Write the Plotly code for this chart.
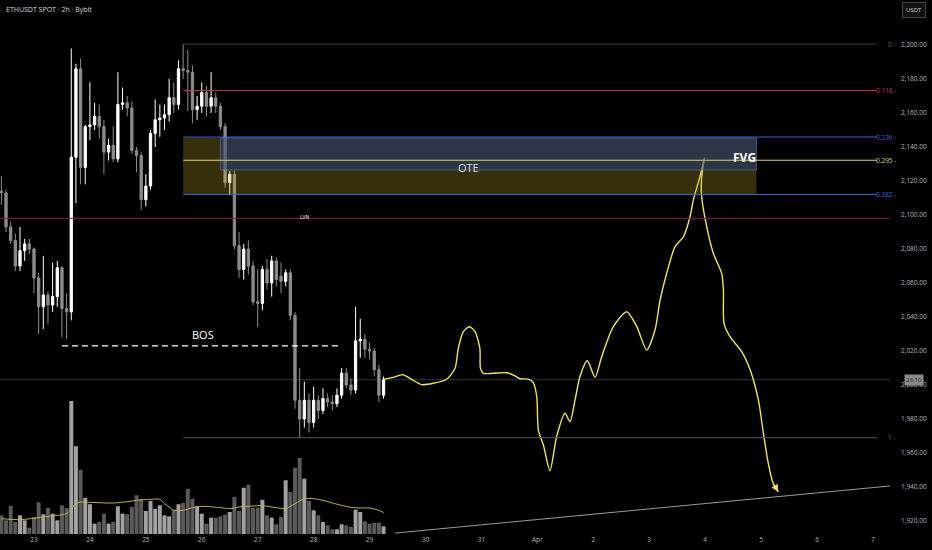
import pandas as pd
import plotly.graph_objects as go

# ---------------- data ----------------
candle_start = "2025-03-22 10:00"
n_candles = 83
opens = [2114, 2113, 2093, 2085, 2070, 2079, 2083, 2080, 2063, 2046, 2053, 2047, 2052, 2069, 2045, 2043, 2134, 2186, 2128, 2152, 2153,
         2158, 2152, 2137, 2141, 2133, 2165, 2166, 2163, 2138, 2135, 2109, 2117, 2148, 2156, 2157, 2159, 2169, 2165, 2186, 2185, 2184,
         2162, 2164, 2172, 2164, 2169, 2164, 2152, 2119, 2124, 2082, 2068, 2080, 2070, 2049, 2048, 2068, 2060, 2073, 2064, 2061, 2066,
         2041, 1991, 1980, 1991, 1978, 1991, 1985, 1992, 1990, 1989, 1994, 2007, 2000, 1997, 2026, 2027, 2021, 2020, 2009, 1994]
highs = [2123, 2115, 2096, 2089, 2093, 2086, 2086, 2081, 2066, 2076, 2055, 2072, 2073, 2070, 2054, 2198, 2189, 2192, 2153, 2178, 2166,
         2165, 2156, 2145, 2152, 2184, 2175, 2170, 2167, 2140, 2137, 2124, 2150, 2168, 2165, 2165, 2180, 2178, 2191, 2200.5, 2197, 2188,
         2170, 2178, 2176, 2184, 2172, 2166, 2154, 2126, 2126, 2090, 2083, 2085, 2073, 2068, 2070, 2074, 2076, 2075, 2072, 2068, 2068,
         2043, 2010, 2002, 1995, 1999, 1994, 1998, 1995, 1994, 1998, 2010, 2010, 2004, 2046, 2039, 2030, 2025, 2022, 2012, 2005]
lows = [2106, 2090, 2083, 2067, 2067, 2073, 2077, 2054, 2030, 2033, 2036, 2043, 2046, 2028, 2027, 2038, 2107, 2118, 2118, 2144, 2150,
        2145, 2124, 2132, 2131, 2131, 2162, 2158, 2136, 2125, 2103, 2105, 2115, 2140, 2146, 2150, 2155, 2160, 2162, 2180, 2161, 2154,
        2156, 2160, 2158, 2160, 2160, 2150, 2116, 2112, 2080, 2063, 2062, 2065, 2047, 2034, 2044, 2056, 2052, 2058, 2054, 2058, 2038,
        1986, 1969, 1975, 1972, 1975, 1980, 1983, 1987, 1985, 1987, 1992, 1998, 1994, 1995, 2016, 2016, 2015, 2005, 1990, 1992]
closes = [2113, 2093, 2085, 2070, 2079, 2083, 2080, 2063, 2046, 2053, 2047, 2052, 2069, 2045, 2043, 2134, 2186, 2128, 2152, 2153, 2158,
          2152, 2137, 2141, 2133, 2165, 2166, 2163, 2138, 2135, 2109, 2117, 2148, 2156, 2157, 2159, 2169, 2165, 2186, 2185, 2184, 2162,
          2164, 2172, 2164, 2169, 2164, 2152, 2119, 2124, 2082, 2068, 2080, 2070, 2049, 2048, 2068, 2060, 2073, 2062, 2061, 2066, 2041,
          1991, 1980, 1991, 1978, 1991, 1985, 1992, 1990, 1989, 1994, 2007, 2000, 1997, 2026, 2027, 2021, 2020, 2009, 1994, 2003]
volumes = [56, 41, 85, 36, 56, 41, 19, 51, 95, 59, 78, 61, 41, 86, 78, 399, 263, 193, 108, 89, 31,
           36, 61, 31, 36, 83, 61, 59, 81, 116, 106, 69, 99, 76, 86, 56, 53, 73, 89, 93, 136, 106,
           83, 61, 31, 49, 49, 53, 58, 66, 111, 69, 139, 148, 79, 79, 103, 56, 49, 29, 51, 161, 126,
           199, 228, 166, 99, 71, 56, 36, 26, 14, 14, 29, 26, 21, 73, 66, 38, 31, 34, 34, 23]
vol_ma_index = [1, 5, 10, 14, 15, 16, 17, 18, 20, 25, 28, 30, 33, 35, 36, 37, 38, 40, 42, 44, 48, 50, 52, 55, 57, 60,
                62, 63, 65, 66, 68, 70, 72, 74, 76, 78, 80, 82, 83]
vol_ma_value = [46, 43, 51, 58, 61, 76, 91, 96, 95, 93, 97, 101, 104, 104, 91, 81, 71, 71, 79, 83, 79, 76, 81, 84, 85, 79,
                76, 83, 99, 106, 106, 101, 93, 86, 80, 78, 78, 71, 64]

path_time = ["2025-03-29 06:10", "2025-03-29 10:10", "2025-03-29 14:10", "2025-03-29 17:20", "2025-03-29 22:20",
             "2025-03-30 03:20", "2025-03-30 09:05", "2025-03-30 12:40", "2025-03-30 14:05", "2025-03-30 16:15",
             "2025-03-30 18:50", "2025-03-30 21:15", "2025-03-30 23:20", "2025-03-30 23:35", "2025-03-31 00:50",
             "2025-03-31 05:05", "2025-03-31 10:50", "2025-03-31 14:25", "2025-03-31 16:35", "2025-03-31 20:05",
             "2025-03-31 22:15", "2025-03-31 23:45", "2025-04-01 00:25", "2025-04-01 02:35", "2025-04-01 05:25",
             "2025-04-01 08:15", "2025-04-01 11:50", "2025-04-01 14:00", "2025-04-01 16:10", "2025-04-01 18:15",
             "2025-04-01 21:25", "2025-04-02 00:45", "2025-04-02 03:35", "2025-04-02 08:35", "2025-04-02 14:20",
             "2025-04-02 18:40", "2025-04-02 22:55", "2025-04-03 02:30", "2025-04-03 04:40", "2025-04-03 07:30",
             "2025-04-03 11:05", "2025-04-03 14:40", "2025-04-03 17:30", "2025-04-03 18:55", "2025-04-03 21:45",
             "2025-04-03 23:40", "2025-04-03 22:30", "2025-04-03 22:30", "2025-04-04 00:40", "2025-04-04 03:30",
             "2025-04-04 07:05", "2025-04-04 07:50", "2025-04-04 08:05", "2025-04-04 10:40", "2025-04-04 15:40",
             "2025-04-04 19:20", "2025-04-04 22:50", "2025-04-05 01:00", "2025-04-05 03:05", "2025-04-05 05:10",
             "2025-04-05 07:25"]
path_price = [2003.4, 2004.5, 2006.1, 2003.9, 2000.2, 2001.0, 2003.4, 2009.8, 2021.6, 2031.4,
              2034.3, 2031.4, 2021.6, 2009.8, 2006.9, 2006.9, 2007.2, 2005.3, 2003.7, 2003.5,
              2001.4, 1993.1, 1973.5, 1964.7, 1949.6, 1969.6, 1983.4, 1978.4, 1991.2, 2004.9,
              2014.3, 2004.5, 2016.6, 2034.3, 2043.1, 2034.3, 2020.6, 2032.4, 2050.0, 2065.7,
              2081.4, 2087.2, 2099.0, 2108.8, 2122.5, 2133.4, 2122.5, 2110.8, 2093.1, 2077.5,
              2065.7, 2055.9, 2036.3, 2028.4, 2019.6, 2008.8, 1991.2, 1971.6, 1953.9, 1942.2,
              1937.2]

fib_levels = [0, 0.118, 0.236, 0.295, 0.382, 1]
fib_labels = ["0", "0.118", "0.236", "0.295", "0.382", "1"]
fib_high = 2200.5
fib_low = 1969.0
fib_start = "2025-03-25 16:00"
fib_end = "2025-04-07 01:45"

ote_box = {"x0": "2025-03-25 16:00", "x1": "2025-04-04 22:00", "y0": 2111.7, "y1": 2145.4}
fvg_box = {"x0": "2025-03-26 08:00", "x1": "2025-04-04 22:00", "y0": 2126.5, "y1": 2145.4}
bos_level = 2023.0
bos_span = ["2025-03-23 12:00", "2025-03-28 12:00"]
lvn_level = 2098.0
last_price = 2003.1
trend_time = ["2025-03-29 10:55", "2025-04-07 07:19"]
trend_price = [1912.9, 1940.6]

x_tick_dates = ["2025-03-%02d" % d for d in range(23, 32)] + ["2025-04-%02d" % d for d in range(1, 8)]
x_tick_text = [str(d) for d in range(23, 32)] + ["Apr"] + [str(d) for d in range(2, 8)]
y_ticks = list(range(1920, 2201, 20))

# ---------------- figure ----------------
times = pd.date_range(candle_start, periods=n_candles, freq="2h")
UP = "#ffffff"
DOWN = "#8c8c8c"
FONT = "Open Sans"
AX = "#b2b5be"

fig = go.Figure()
fig.add_trace(go.Candlestick(
    x=times, open=opens, high=highs, low=lows, close=closes,
    increasing=dict(fillcolor=UP, line=dict(color=UP, width=1)),
    decreasing=dict(fillcolor=DOWN, line=dict(color=DOWN, width=1)),
    whiskerwidth=0, showlegend=False, hoverinfo="skip"))

vol_colors = ["#a2a2a2" if c >= o else "#5a5a5a" for o, c in zip(opens, closes)]
fig.add_trace(go.Bar(x=times, y=volumes, marker=dict(color=vol_colors, line=dict(width=0)),
                     yaxis="y2", showlegend=False, hoverinfo="skip"))
fig.add_trace(go.Scatter(x=[times[i - 1] for i in vol_ma_index], y=vol_ma_value, mode="lines",
                         line=dict(color="#bdb54a", width=1, shape="spline", smoothing=0.8),
                         yaxis="y2", showlegend=False, hoverinfo="skip"))

fig.add_trace(go.Scatter(x=path_time, y=path_price, mode="lines",
                         line=dict(color="#ece45a", width=1.4, shape="spline", smoothing=0.7),
                         showlegend=False, hoverinfo="skip"))

shapes = []
shapes.append(dict(type="rect", xref="x", yref="y", layer="above", line=dict(width=0),
                   fillcolor="rgba(190,170,40,0.28)", **ote_box))
shapes.append(dict(type="rect", xref="x", yref="y", layer="above",
                   line=dict(width=1, color="rgba(110,130,165,0.55)"),
                   fillcolor="rgba(35,62,130,0.5)", **fvg_box))
fib_colors = ["#3c3c3c", "#c2334d", "#3e63d8", "#dcd65a", "#3e63d8", "#555555"]
for lvl, col in zip(fib_levels, fib_colors):
    p = fib_high - lvl * (fib_high - fib_low)
    shapes.append(dict(type="line", xref="x", yref="y", x0=fib_start, x1=fib_end, y0=p, y1=p,
                       line=dict(color=col, width=1), layer="above"))
shapes.append(dict(type="line", xref="paper", yref="y", x0=0, x1=1, y0=lvn_level, y1=lvn_level,
                   line=dict(color="#7d1f2e", width=1), layer="above"))
shapes.append(dict(type="line", xref="paper", yref="y", x0=0, x1=1, y0=last_price, y1=last_price,
                   line=dict(color="#333333", width=1), layer="below"))
shapes.append(dict(type="line", xref="x", yref="y", x0=bos_span[0], x1=bos_span[1], y0=bos_level, y1=bos_level,
                   line=dict(color="#ffffff", width=1.3, dash="6px,4px"), layer="above"))
shapes.append(dict(type="line", xref="x", yref="y", x0=trend_time[0], x1=trend_time[1],
                   y0=trend_price[0], y1=trend_price[1], line=dict(color="#9a9a9a", width=1), layer="above"))

annotations = []
for lvl, lab, col in zip(fib_levels, fib_labels, fib_colors):
    p = fib_high - lvl * (fib_high - fib_low)
    annotations.append(dict(xref="paper", yref="y", x=1.009, y=p, text=lab + " -", showarrow=False,
                            xanchor="right", yanchor="middle",
                            font=dict(family=FONT, size=6.5, color=col if lvl not in (0, 1) else "#666666")))
annotations += [
    dict(xref="paper", yref="paper", x=0.004, y=0.983, text="ETHUSDT SPOT · 2h · Bybit", showarrow=False,
         xanchor="left", yanchor="middle", font=dict(family=FONT, size=7, color="#d8d8d8")),
    dict(xref="paper", yref="paper", x=1.027, y=0.981, text="USDT", showarrow=False,
         xanchor="center", yanchor="middle", bordercolor="#444444", borderwidth=1, borderpad=3,
         bgcolor="#111111", font=dict(family=FONT, size=6, color="#cfcfcf")),
    dict(xref="paper", yref="y", x=1.027, y=last_price, text="28:10", showarrow=False,
         xanchor="center", yanchor="middle", bgcolor="#8a8a8a", borderpad=1,
         font=dict(family=FONT, size=6, color="#2a2a2a")),
    dict(xref="x", yref="y", x="2025-03-30 18:15", y=2128.2, text="OTE", showarrow=False,
         font=dict(family=FONT, size=11, color="#d4dae2")),
    dict(xref="x", yref="y", x="2025-04-04 17:00", y=2134.0, text="<b>FVG</b>", showarrow=False,
         font=dict(family=FONT, size=12, color="#ffffff")),
    dict(xref="x", yref="y", x="2025-03-26 00:30", y=2029.5, text="BOS", showarrow=False,
         font=dict(family=FONT, size=11, color="#ffffff")),
    dict(xref="x", yref="y", x="2025-03-27 20:20", y=lvn_level + 0.8, text="LVN", showarrow=False,
         font=dict(family=FONT, size=5, color="#ffffff")),
    dict(xref="x", yref="y", x=path_time[-1], y=path_price[-1], axref="x", ayref="y",
         ax=path_time[-2], ay=path_price[-2], text="", showarrow=True, arrowhead=2,
         arrowsize=1.2, arrowwidth=1.2, arrowcolor="#ece45a"),
]

fig.update_layout(
    width=932, height=550,
    margin=dict(l=0, r=42, t=0, b=16),
    paper_bgcolor="#000000", plot_bgcolor="rgba(0,0,0,0)",
    shapes=shapes, annotations=annotations,
    bargap=0.15,
    xaxis=dict(type="date", range=["2025-03-22 09:25", "2025-04-07 07:19"],
               tickvals=x_tick_dates, ticktext=x_tick_text, showgrid=False, zeroline=False,
               showline=False, ticks="", rangeslider=dict(visible=False),
               tickfont=dict(family=FONT, size=6.5, color=AX)),
    yaxis=dict(side="right", range=[1912.35, 2226.47], domain=[0, 1], tickvals=y_ticks,
               tickformat=",.2f", showgrid=False, zeroline=False, showline=False, ticks="",
               ticklabelstandoff=10, tickfont=dict(family=FONT, size=6.5, color=AX)),
    yaxis2=dict(domain=[0, 0.3], range=[0, 480.6], anchor="x", showgrid=False, zeroline=False,
                showticklabels=False, showline=False),
)

fig.write_html("out.html", config={"displayModeBar": False},
               post_script="document.body.style.margin='0px';document.body.style.background='#000';")
